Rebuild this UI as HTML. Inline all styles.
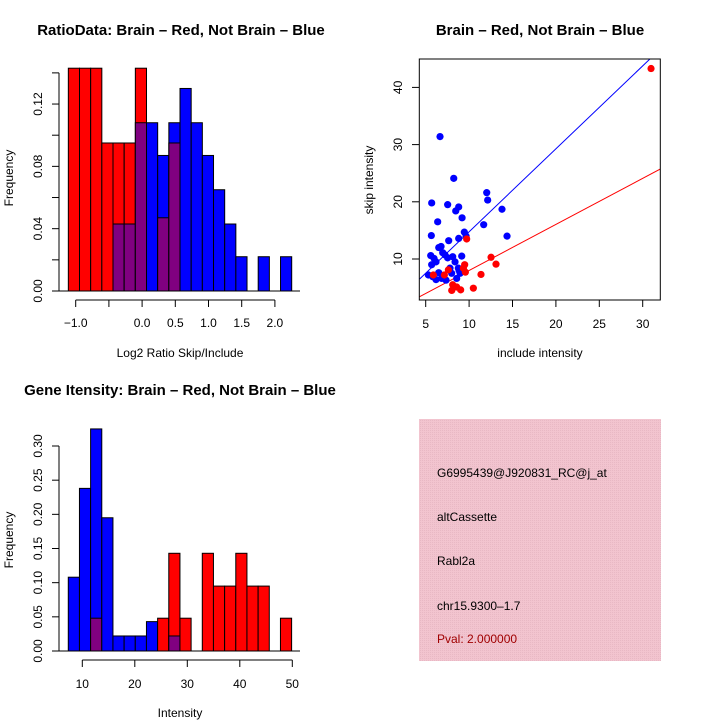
<!DOCTYPE html>
<html><head><meta charset="utf-8"><style>
body{margin:0;background:#fff}
svg{display:block;font-family:"Liberation Sans",sans-serif}
</style></head><body>
<svg id="s" width="720" height="720" viewBox="0 0 720 720" xmlns="http://www.w3.org/2000/svg">
<defs>
<pattern id="hatch" width="2" height="2" patternUnits="userSpaceOnUse">
<rect width="2" height="2" fill="#f2c4cf"/><rect width="1" height="1" fill="#e8b8c4"/>
</pattern>
</defs>
<text x="181" y="35" text-anchor="middle" font-size="15" font-weight="bold">RatioData: Brain – Red, Not Brain – Blue</text>
<text x="540" y="35" text-anchor="middle" font-size="15" font-weight="bold">Brain – Red, Not Brain – Blue</text>
<text x="180" y="395" text-anchor="middle" font-size="15" font-weight="bold">Gene Itensity: Brain – Red, Not Brain – Blue</text>
<g id="h1"></g>
<g id="sc"></g>
<g id="h2"></g>
<g>
<rect x="419" y="419" width="242" height="242" fill="url(#hatch)"/>
<text x="437" y="477" font-size="12">G6995439@J920831_RC@j_at</text>
<text x="437" y="521" font-size="12">altCassette</text>
<text x="437" y="565" font-size="12">Rabl2a</text>
<text x="437" y="610" font-size="12">chr15.9300–1.7</text>
<text x="437" y="643" font-size="12" fill="#a00000">Pval: 2.000000</text>
</g>
</svg>
<script>
// Ratio histogram data
const ratioStart = -1.111;
const ratioWidth = 0.1682;
const ratioRed  = [0.143,0.143,0.143,0.095,0.095,0.095,0.143,0,0.047,0.095,0,0,0,0,0,0,0,0,0,0];
const ratioBlue = [0,0,0,0,0.043,0.043,0.108,0.108,0.087,0.108,0.130,0.108,0.087,0.065,0.043,0.022,0,0.022,0,0.022];
const ratioXTicks = [-1.0,-0.5,0.0,0.5,1.0,1.5,2.0];
const ratioXLabels = ["−1.0","","0.0","0.5","1.0","1.5","2.0"];
const ratioYTicks = [0,0.02,0.04,0.06,0.08,0.10,0.12,0.14];
const ratioYLabels = ["0.00","","0.04","","0.08","","0.12",""];
// Intensity histogram data
const intStart = 7.33;
const intWidth = 2.127;
const intRed  = [0,0,0.048,0,0,0,0,0,0.048,0.143,0.048,0,0.143,0.095,0.095,0.143,0.095,0.095,0,0.048];
const intBlue = [0.108,0.238,0.325,0.195,0.022,0.022,0.022,0.043,0,0.022,0,0,0,0,0,0,0,0,0,0];
const intXTicks = [10,20,30,40,50];
const intYTicks = [0,0.05,0.10,0.15,0.20,0.25,0.30];
const intYLabels = ["0.00","0.05","0.10","0.15","0.20","0.25","0.30"];
// Scatter data
const blueX = [6.65,8.23,5.69,7.53,8.8,8.46,9.19,12.03,12.14,13.79,11.68,14.37,6.38,5.65,7.65,8.8,9.45,9.65,6.5,6.77,6.96,7.23,7.53,8.11,9.15,5.58,5.96,6.19,5.69,8.38,7.8,8.76,6.5,7.99,8.84,5.31,5.81,6.19,6.84,7.34,8.57,8.96];
const blueY = [31.4,24.1,19.8,19.5,19.1,18.4,17.2,21.6,20.3,18.7,16.0,14.0,16.5,14.1,13.2,13.6,14.7,14.0,12.0,12.2,11.1,10.7,10.2,10.4,10.5,10.6,10.1,9.5,9.0,9.5,8.4,8.4,7.6,7.5,8.0,7.2,6.9,6.4,6.6,6.3,6.6,7.5];
const redX = [30.96,12.53,13.1,11.37,10.49,9.49,9.57,9.72,8.11,8.57,9.03,8.0,7.15,5.88,7.61,9.34];
const redY = [43.3,10.3,9.1,7.3,4.9,9.0,7.7,13.5,5.5,5.1,4.6,4.5,7.2,7.2,8.1,8.4];
const blueLine = [1.45,0.26];
const redLine = [0.805,-0.06];
const scXTicks = [5,10,15,20,25,30];
const scYTicks = [10,20,30,40];

const NS="http://www.w3.org/2000/svg";
function mk(parent,tag,attrs,text){const e=document.createElementNS(NS,tag);for(const k in attrs)e.setAttribute(k,attrs[k]);if(text!==undefined)e.textContent=text;parent.appendChild(e);return e;}

function hist(g,start,width,red,blue,xs,ys,xTicks,xLabels,yTicks,yLabels,axisY,xLab,yLabY,xLabY,tickLabY){
  const n=red.length;
  for(let i=0;i<n;i++){
    const x0=xs(start+i*width), x1=xs(start+(i+1)*width);
    const r=red[i], b=blue[i], m=Math.min(r,b), t=Math.max(r,b);
    if(t<=0) continue;
    const top=r>=b?'#ff0000':'#0000ff';
    let el=mk(g,'rect',{x:x0,y:ys(t),width:x1-x0,height:ys(0)-ys(t),fill:top,stroke:'#000','stroke-width':1});
    
    
    if(m>0){
      el=mk(g,'rect',{x:x0,y:ys(m),width:x1-x0,height:ys(0)-ys(m),fill:'#800080',stroke:'#000','stroke-width':1});
      
      
    }
  }
  mk(g,'line',{x1:59,y1:ys(0),x2:300,y2:ys(0),stroke:'#000','stroke-width':1});
  mk(g,'line',{x1:59,y1:ys(yTicks[0]),x2:59,y2:ys(yTicks[yTicks.length-1]),stroke:'#000'});
  yTicks.forEach((v,i)=>{
    mk(g,'line',{x1:52,y1:ys(v),x2:59,y2:ys(v),stroke:'#000'});
    if(yLabels[i]){const t=mk(g,'text',{x:0,y:0,'font-size':12,'text-anchor':'middle',transform:`translate(42,${ys(v)}) rotate(-90)`},yLabels[i]);
      
      }
  });
  mk(g,'line',{x1:xs(xTicks[0]),y1:axisY,x2:xs(xTicks[xTicks.length-1]),y2:axisY,stroke:'#000'});
  xTicks.forEach((v,i)=>{
    mk(g,'line',{x1:xs(v),y1:axisY,x2:xs(v),y2:axisY+7,stroke:'#000'});
    if(xLabels[i]){const t=mk(g,'text',{x:xs(v),y:tickLabY,'font-size':12,'text-anchor':'middle'},xLabels[i]);
      
      }
  });
  let t=mk(g,'text',{x:180,y:xLabY,'font-size':12,'text-anchor':'middle'},xLab);
  
  
  t=mk(g,'text',{x:0,y:0,'font-size':12,'text-anchor':'middle',transform:`translate(13,${yLabY}) rotate(-90)`},'Frequency');
  
  
}
const h1=document.getElementById('h1');
hist(h1,ratioStart,ratioWidth,ratioRed,ratioBlue,v=>75.7+(v+1)*66.4,v=>291-v*1558,ratioXTicks,ratioXLabels,ratioYTicks,ratioYLabels,300,'Log2 Ratio Skip/Include',178,357,327);
const h2=document.getElementById('h2');
hist(h2,intStart,intWidth,intRed,intBlue,v=>82.3+(v-10)*5.25,v=>651-v*683.3,intXTicks,intXTicks.map(String),intYTicks,intYLabels,660,'Intensity',540,717,688);

const sc=document.getElementById('sc');
const sx=v=>425.7+(v-5)*8.68, sy=v=>259-(v-10)*5.72;
const X0=4.3,X1=32.07;
const clip=mk(sc,'clipPath',{id:'scclip'});
mk(clip,'rect',{x:419.3,y:59,width:241,height:241});
const lg=mk(sc,'g',{'clip-path':'url(#scclip)'});
let ln=mk(lg,'line',{x1:sx(X0),y1:sy(blueLine[0]*X0+blueLine[1]),x2:sx(X1),y2:sy(blueLine[0]*X1+blueLine[1]),stroke:'#0000ff','stroke-width':1});


ln=mk(lg,'line',{x1:sx(X0),y1:sy(redLine[0]*X0+redLine[1]),x2:sx(X1),y2:sy(redLine[0]*X1+redLine[1]),stroke:'#ff0000','stroke-width':1});


blueX.forEach((v,i)=>{const c=mk(lg,'circle',{cx:sx(v),cy:sy(blueY[i]),r:3.6,fill:'#0000ff'});
  
  });
redX.forEach((v,i)=>{const c=mk(lg,'circle',{cx:sx(v),cy:sy(redY[i]),r:3.6,fill:'#ff0000'});
  
  });
mk(sc,'rect',{x:419.3,y:59,width:241,height:241,fill:'none',stroke:'#000','stroke-width':1});
scXTicks.forEach(v=>{mk(sc,'line',{x1:sx(v),y1:300,x2:sx(v),y2:307,stroke:'#000'});
  const t=mk(sc,'text',{x:sx(v),y:328,'font-size':12,'text-anchor':'middle'},String(v));
  
  });
scYTicks.forEach(v=>{mk(sc,'line',{x1:412,y1:sy(v),x2:419.3,y2:sy(v),stroke:'#000'});
  const t=mk(sc,'text',{x:0,y:0,'font-size':12,'text-anchor':'middle',transform:`translate(402,${sy(v)}) rotate(-90)`},String(v));
  
  });
let tt=mk(sc,'text',{x:540,y:357,'font-size':12,'text-anchor':'middle'},'include intensity');


tt=mk(sc,'text',{x:0,y:0,'font-size':12,'text-anchor':'middle',transform:'translate(373,180) rotate(-90)'},'skip intensity');


</script>
</body></html>
